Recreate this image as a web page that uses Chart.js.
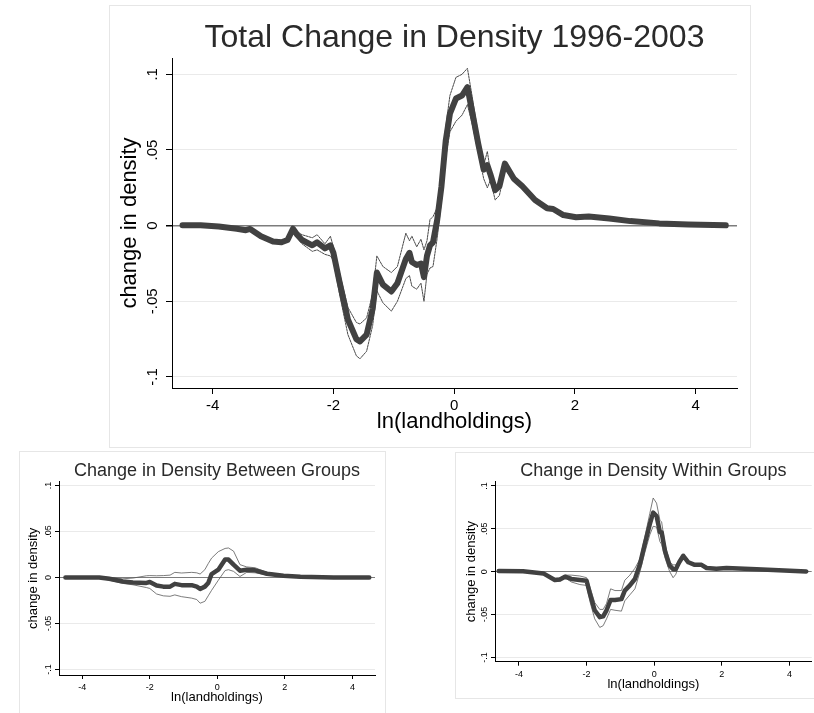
<!DOCTYPE html>
<html>
<head>
<meta charset="utf-8">
<title>Change in Density 1996-2003</title>
<script src="https://cdn.jsdelivr.net/npm/chart.js@4.4.1/dist/chart.umd.min.js"></script>
<style>
  html, body { margin: 0; padding: 0; background: #fff; }
  body { width: 814px; height: 713px; position: relative; overflow: hidden; }
  .panel { position: absolute; border: 1px solid #e6e6e6; box-sizing: border-box; }
  canvas { position: absolute; }
</style>
</head>
<body>
<div class="panel" style="left:109px;top:5px;width:642px;height:443px"></div>
<div class="panel" style="left:19px;top:451px;width:367px;height:290px"></div>
<div class="panel" style="left:455px;top:452px;width:380px;height:247px"></div>
<canvas id="total" width="641" height="442" style="left:109px;top:5px"></canvas>
<canvas id="between" width="366" height="262" style="left:19px;top:451px"></canvas>
<canvas id="within" width="359" height="247" style="left:455px;top:451px"></canvas>
<script>
var xTicks = [-4, -2, 0, 2, 4];
var yTicks = [-0.1, -0.05, 0, 0.05, 0.1];
var yTickLabels = ['-.1', '-.05', '0', '.05', '.1'];
var xTitle = 'ln(landholdings)';
var yTitle = 'change in density';

// total change 1996-2003: estimate, upper and lower band
var totalX = [-4.5, -4.2, -3.9, -3.6, -3.45, -3.38, -3.2, -3.0, -2.86, -2.76,
  -2.67, -2.6, -2.52, -2.35, -2.27, -2.14, -2.05, -2.0, -1.9, -1.76,
  -1.62, -1.56, -1.45, -1.35, -1.28, -1.18, -1.04, -0.94, -0.8, -0.74,
  -0.7, -0.62, -0.55, -0.5, -0.45, -0.4, -0.35, -0.28, -0.21, -0.14,
  -0.07, 0.03, 0.13, 0.22, 0.3, 0.4, 0.49, 0.55, 0.6, 0.68,
  0.75, 0.84, 0.99, 1.13, 1.34, 1.54, 1.64, 1.81, 2.02, 2.23,
  2.57, 2.92, 3.4, 3.88, 4.5];
var totalMid = [0.0003, 0.0003, -0.0005, -0.002, -0.003, -0.0022, -0.007, -0.0105, -0.011, -0.0095,
  -0.002, -0.006, -0.0095, -0.013, -0.011, -0.015, -0.013, -0.018, -0.037, -0.062,
  -0.075, -0.0765, -0.072, -0.055, -0.031, -0.039, -0.0435, -0.038, -0.022, -0.018,
  -0.024, -0.026, -0.025, -0.034, -0.020, -0.013, -0.011, 0.004, 0.026, 0.056,
  0.074, 0.084, 0.086, 0.0915, 0.075, 0.054, 0.037, 0.040, 0.034, 0.0235,
  0.026, 0.041, 0.031, 0.026, 0.017, 0.0115, 0.011, 0.007, 0.0055, 0.006,
  0.0047, 0.003, 0.0015, 0.0007, 0.0002];
var totalHi = [0.0006, 0.0006, -0.0002, -0.0016, -0.0025, -0.0017, -0.0064, -0.0098, -0.0102, -0.0086,
  -0.001, -0.004, -0.006, -0.008, -0.006, -0.012, -0.007, -0.014, -0.031, -0.054,
  -0.064, -0.065, -0.061, -0.045, -0.020, -0.027, -0.031, -0.027, -0.005, -0.010,
  -0.007, -0.014, -0.009, -0.016, -0.010, 0.004, 0.006, 0.012, 0.035, 0.065,
  0.086, 0.098, 0.100, 0.104, 0.085, 0.060, 0.040, 0.049, 0.036, 0.027,
  0.028, 0.042, 0.032, 0.027, 0.0175, 0.012, 0.0115, 0.0075, 0.006, 0.0064,
  0.005, 0.0033, 0.0018, 0.001, 0.0005];
var totalLo = [0.0, 0.0, -0.0008, -0.0024, -0.0035, -0.0027, -0.0076, -0.0112, -0.0118, -0.0104,
  -0.003, -0.008, -0.012, -0.017, -0.016, -0.019, -0.020, -0.023, -0.045, -0.072,
  -0.086, -0.088, -0.083, -0.066, -0.043, -0.051, -0.0565, -0.050, -0.035, -0.033,
  -0.040, -0.042, -0.038, -0.050, -0.032, -0.028, -0.027, -0.008, 0.016, 0.045,
  0.062, 0.069, 0.073, 0.080, 0.067, 0.048, 0.031, 0.025, 0.030, 0.017,
  0.020, 0.037, 0.030, 0.025, 0.0165, 0.011, 0.0105, 0.0065, 0.005, 0.0056,
  0.0044, 0.0027, 0.0012, 0.0004, 0.0];

// change between groups
var betweenX = [-4.5, -3.5, -3.2, -2.8, -2.5, -2.1, -2.0, -1.8, -1.6, -1.4,
  -1.26, -1.06, -0.76, -0.61, -0.51, -0.37, -0.27, -0.17, 0.03, 0.23,
  0.33, 0.48, 0.67, 0.87, 1.12, 1.47, 1.96, 2.46, 3.45, 4.5];
var betweenMid = [0, 0, -0.0015, -0.0045, -0.0055, -0.006, -0.005, -0.0088, -0.010, -0.010,
  -0.007, -0.0084, -0.0084, -0.010, -0.0125, -0.010, -0.006, 0.0037, 0.0084, 0.0194,
  0.0194, 0.0139, 0.0073, 0.0084, 0.0077, 0.004, 0.0018, 0.0007, 0, 0];
var betweenHi = [0.0005, 0.0005, 0, -0.0015, -0.0007, 0.0018, 0.002, 0.0018, 0.002, 0.0025,
  0.0055, 0.0048, 0.0055, 0.005, 0.0037, 0.0084, 0.015, 0.021, 0.028, 0.0315,
  0.032, 0.0286, 0.0139, 0.0114, 0.0105, 0.0055, 0.0026, 0.0012, 0.0005, 0.0005];
var betweenLo = [-0.0005, -0.0005, -0.003, -0.0065, -0.008, -0.011, -0.012, -0.018, -0.020, -0.0205,
  -0.019, -0.0209, -0.0225, -0.024, -0.028, -0.026, -0.020, -0.014, -0.003, 0.0075,
  0.0084, 0.0066, 0.001, 0.0055, 0.005, 0.0026, 0.001, 0.0002, -0.0005, -0.0005];

// change within groups
var withinX = [-4.6, -3.88, -3.28, -2.94, -2.79, -2.64, -2.45, -2.2, -2.0, -1.9,
  -1.76, -1.61, -1.51, -1.41, -1.29, -1.16, -0.97, -0.87, -0.72, -0.57,
  -0.42, -0.28, -0.13, -0.03, 0.07, 0.17, 0.22, 0.32, 0.46, 0.56,
  0.64, 0.74, 0.86, 1.01, 1.2, 1.4, 1.55, 1.84, 2.14, 3.03, 4.5];
var withinMid = [0.0008, 0.0004, -0.002, -0.0097, -0.009, -0.0058, -0.0085, -0.0097, -0.0105, -0.026,
  -0.045, -0.053, -0.052, -0.045, -0.033, -0.033, -0.032, -0.022, -0.016, -0.0085,
  0.009, 0.032, 0.0554, 0.069, 0.065, 0.046, 0.046, 0.024, 0.007, 0.003,
  0.003, 0.011, 0.0186, 0.011, 0.008, 0.008, 0.0043, 0.0035, 0.0043, 0.003, 0.0003];
var withinHi = [0.0012, 0.0008, -0.0015, -0.008, -0.0075, -0.004, -0.004, -0.005, -0.007, -0.018,
  -0.036, -0.044, -0.044, -0.037, -0.020, -0.022, -0.022, -0.010, -0.004, 0.004,
  0.015, 0.040, 0.068, 0.086, 0.080, 0.060, 0.058, 0.032, 0.011, 0.008,
  0.008, 0.013, 0.020, 0.012, 0.009, 0.009, 0.005, 0.004, 0.005, 0.0035, 0.0006];
var withinLo = [0.0004, 0, -0.0025, -0.0115, -0.011, -0.007, -0.012, -0.015, -0.016, -0.035,
  -0.055, -0.065, -0.063, -0.055, -0.044, -0.045, -0.046, -0.034, -0.027, -0.020,
  0.000, 0.022, 0.043, 0.053, 0.052, 0.035, 0.032, 0.016, 0.000, -0.007,
  -0.003, 0.009, 0.017, 0.010, 0.007, 0.007, 0.0036, 0.003, 0.0036, 0.0025, 0];

var FONT = '"Liberation Sans", Arial, Helvetica, sans-serif';
Chart.defaults.font.family = FONT;

// title centred over the plot region, like the stata graph
var panelTitle = {
  id: 'panelTitle',
  afterDraw: function(chart, args, opts) {
    var ctx = chart.ctx, area = chart.chartArea;
    ctx.save();
    ctx.font = opts.size + 'px ' + FONT;
    ctx.fillStyle = '#2a2a2a';
    ctx.textAlign = 'center';
    ctx.textBaseline = 'alphabetic';
    ctx.fillText(opts.text, (area.left + area.right) / 2, opts.baseline);
    ctx.restore();
  }
};

function pts(xs, ys) {
  return xs.map(function(x, i) { return {x: x, y: ys[i]}; });
}

function densityChart(id, s) {
  var line = {showLine: true, pointRadius: 0, fill: false, tension: 0,
    borderJoinStyle: 'round', borderCapStyle: 'round'};
  var band = Object.assign({borderColor: s.bandColor, borderWidth: s.thin, borderDash: s.dash}, line);
  return new Chart(document.getElementById(id), {
    type: 'scatter',
    data: {
      datasets: [
        Object.assign({data: pts(s.x, s.mid), borderColor: '#414141', borderWidth: s.thick}, line),
        Object.assign({data: pts(s.x, s.hi)}, band),
        Object.assign({data: pts(s.x, s.lo)}, band)
      ]
    },
    plugins: [panelTitle],
    options: {
      responsive: false,
      animation: false,
      devicePixelRatio: 1,
      layout: {padding: {left: 0, top: s.top, right: s.right, bottom: 0}},
      plugins: {
        legend: {display: false},
        tooltip: {enabled: false},
        panelTitle: {text: s.title, size: s.titleSize, baseline: s.titleBase}
      },
      scales: {
        x: {
          type: 'linear', min: s.xMin, max: s.xMax,
          afterBuildTicks: function(a) { a.ticks = xTicks.map(function(v) { return {value: v}; }); },
          afterFit: function(a) { a.height = s.xAxisH; },
          border: {color: '#000', width: 1},
          grid: {drawOnChartArea: false, tickLength: s.tick, tickColor: '#000'},
          ticks: {color: '#000', font: {size: s.tickSize}, padding: 3, minRotation: 0, maxRotation: 0,
            callback: function(v) { return String(v); }},
          title: {display: true, text: xTitle, color: '#000', font: {size: s.labelSize},
            padding: {top: 0, bottom: s.xTitlePad}}
        },
        y: {
          type: 'linear', min: s.yMin, max: s.yMax,
          afterBuildTicks: function(a) { a.ticks = yTicks.map(function(v) { return {value: v}; }); },
          afterFit: function(a) { a.width = s.yAxisW; },
          border: {color: '#000', width: 1},
          grid: {
            color: function(c) { return c.tick && c.tick.value === 0 ? '#7c7c7c' : '#eaeaea'; },
            lineWidth: function(c) { return c.tick && c.tick.value === 0 ? s.zeroW : 1; },
            tickLength: s.tick, tickColor: '#000'
          },
          ticks: {color: '#000', font: {size: s.tickSize}, minRotation: 90, maxRotation: 90,
            crossAlign: 'center', padding: s.yTickPad,
            callback: function(v) { return yTickLabels[yTicks.indexOf(v)]; }},
          title: {display: true, text: yTitle, color: '#000', font: {size: s.labelSize},
            padding: {top: s.yTitlePad, bottom: 0}}
        }
      }
    }
  });
}

densityChart('total', {
  x: totalX, mid: totalMid, hi: totalHi, lo: totalLo,
  title: 'Total Change in Density 1996-2003', titleSize: 32, titleBase: 41.7,
  top: 53, right: 13, yAxisW: 63, xAxisH: 59,
  xMin: -4.674, xMax: 4.686, yMin: -0.1073, yMax: 0.1108,
  tick: 6, tickSize: 15, labelSize: 22, xTitlePad: 11.8, yTitlePad: 7.4, yTickPad: 0,
  thick: 6, thin: 1, zeroW: 1.5, bandColor: '#4a4a4a', dash: [2, 1]
});

densityChart('between', {
  x: betweenX, mid: betweenMid, hi: betweenHi, lo: betweenLo,
  title: 'Change in Density Between Groups', titleSize: 18, titleBase: 25,
  top: 30.7, right: 10, yAxisW: 40, xAxisH: 38,
  xMin: -4.69, xMax: 4.67, yMin: -0.106, yMax: 0.104,
  tick: 4, tickSize: 9, labelSize: 13, xTitlePad: 8.2, yTitlePad: 6.2, yTickPad: -1,
  thick: 4.5, thin: 0.8, zeroW: 1, bandColor: '#5a5a5a', dash: []
});

densityChart('within', {
  x: withinX, mid: withinMid, hi: withinHi, lo: withinLo,
  title: 'Change in Density Within Groups', titleSize: 18, titleBase: 25,
  top: 30.7, right: 2.3, yAxisW: 40, xAxisH: 36.3,
  xMin: -4.71, xMax: 4.66, yMin: -0.105, yMax: 0.105,
  tick: 4, tickSize: 9, labelSize: 13, xTitlePad: 5.5, yTitlePad: 8.9, yTickPad: -1,
  thick: 4.5, thin: 0.8, zeroW: 1, bandColor: '#5a5a5a', dash: []
});
</script>
</body>
</html>
